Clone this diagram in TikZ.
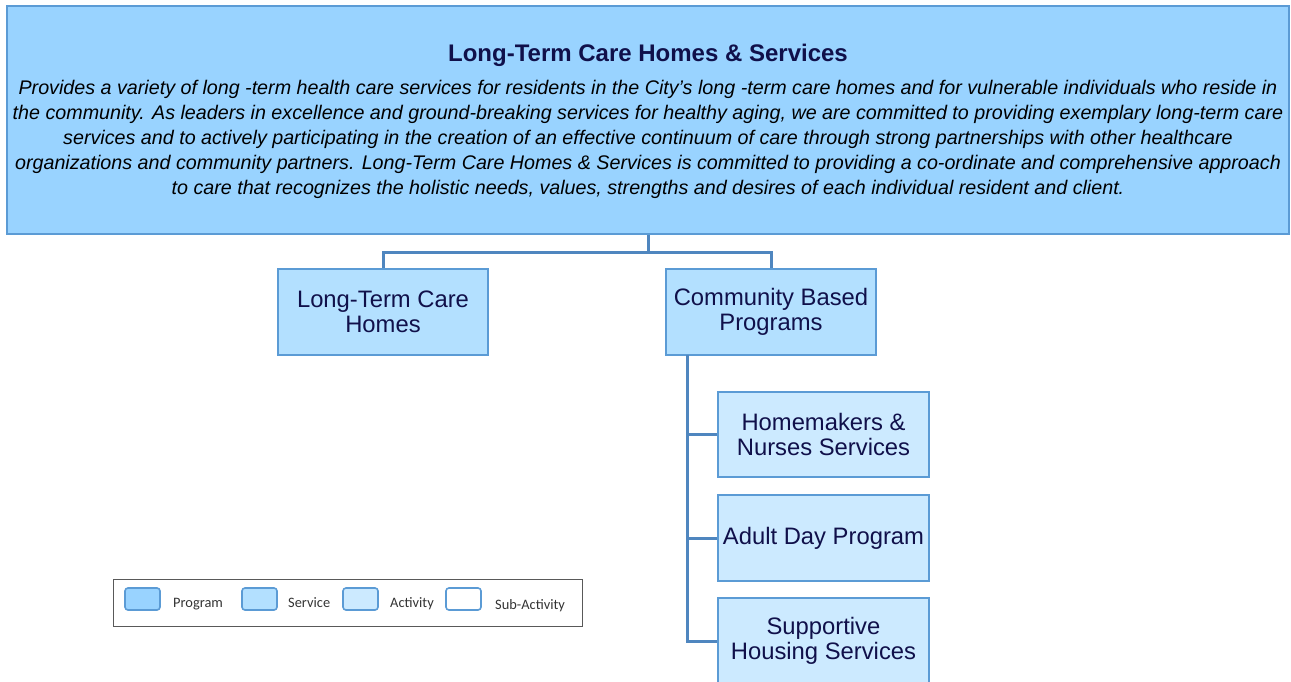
\documentclass[tikz,border=0pt]{standalone}
\usepackage{fontspec}
\setmainfont{Liberation Sans}
\newfontfamily\legendfont{Carlito}
\definecolor{programfill}{HTML}{99D3FF}
\definecolor{servicefill}{HTML}{B3E0FF}
\definecolor{activityfill}{HTML}{CCEAFF}
\definecolor{boxline}{HTML}{5B9BD5}
\definecolor{linkblue}{HTML}{4F86BF}
\definecolor{navytext}{HTML}{10104A}
\definecolor{legendgray}{HTML}{595959}
\tikzset{program/.style={draw=boxline, fill=programfill, line width=1.3pt},
    service/.style={draw=boxline, fill=servicefill, line width=1.3pt},
    activity/.style={draw=boxline, fill=activityfill, line width=1.3pt},
    unit/.style={align=center, text=navytext, inner sep=0pt,
        font=\fontsize{23.8}{25}\selectfont,
        execute at begin node=\vspace*{4pt}},
    link/.style={draw=linkblue, line width=3pt},
    swatch/.style={draw=boxline, line width=1.6pt, rounded corners=3pt,
        minimum width=35pt, minimum height=22pt},
    }

\begin{document}
\begin{tikzpicture}[x=1pt,y=-1pt]
	\useasboundingbox (0,0) rectangle (1291,681);
	\node[program, minimum width=1282pt, minimum height=228pt] (lcths) at (648,120) {};
	\node[text=navytext, font=\bfseries\fontsize{24}{25}\selectfont] (title) at (648,55)
		{Long-Term Care Homes \& Services};
	\node[align=center, font=\itshape\fontsize{19.7}{25}\selectfont] (mission) at (648,139)
		{Provides a variety of long -term health care services for residents in the City’s long -term care homes and for vulnerable individuals who reside in\\
		the community. As leaders in excellence and ground-breaking services for healthy aging, we are committed to providing exemplary long-term care\\
		services and to actively participating in the creation of an effective continuum of care through strong partnerships with other healthcare\\
		organizations and community partners. Long-Term Care Homes \& Services is committed to providing a co-ordinate and comprehensive approach\\
		to care that recognizes the holistic needs, values, strengths and desires of each individual resident and client.};

	\node[service, unit, minimum width=210pt, minimum height=86pt] (ltch) at (383,312)
		{Long-Term Care\\Homes};
	\node[service, unit, minimum width=210pt, minimum height=86pt] (cbp) at (771,312)
		{Community Based\\Programs};
	\node[activity, unit, minimum width=211pt, minimum height=85pt] (hns) at (823.5,434.5)
		{Homemakers \&\\Nurses Services};
	\node[activity, unit, minimum width=211pt, minimum height=86pt] (adp) at (823.5,538)
		{Adult Day Program};
	\node[activity, unit, minimum width=211pt, minimum height=86pt] (shs) at (823.5,641)
		{Supportive\\Housing Services};

	\coordinate (split) at (648,252);
	\coordinate (spine) at (687,355);
	\draw[link] (lcths.south) -- (split);
	\draw[link] (ltch.north) |- (split) -| (cbp.north);
	\draw[link] (spine) |- (hns.west);
	\draw[link] (spine) |- (adp.west);
	\draw[link] (spine) |- (shs.west);

	% legend
	\node[draw=legendgray, line width=0.8pt, minimum width=469pt, minimum height=47pt] (legend) at (347.5,602.5) {};
	\foreach \fill/\x/\lx/\ly/\label in {programfill/142.5/173/607/Program, servicefill/259.5/288/607/Service,
		activityfill/360.5/390/607/Activity, white/463.5/495/609/Sub-Activity}{
		\node[swatch, fill=\fill] (sw-\label) at (\x,599) {};
		\node[anchor=base west, inner sep=0pt, text=black!80, font=\legendfont\fontsize{14.4}{16}\selectfont]
			(lb-\label) at (\lx,\ly) {\label};
	}
\end{tikzpicture}
\end{document}
